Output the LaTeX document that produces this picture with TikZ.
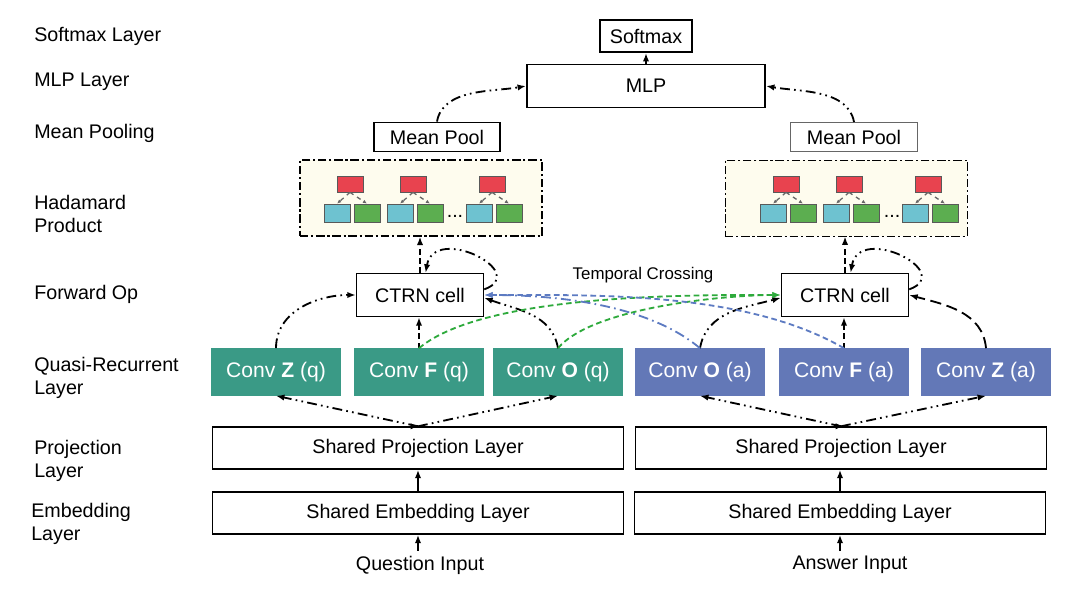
\documentclass[tikz,border=0pt]{standalone}
\usepackage{fontspec}
\setmainfont{Liberation Sans}
\usetikzlibrary{arrows.meta}
\definecolor{convq}{HTML}{3A9A86}
\definecolor{conva}{HTML}{6378B7}
\definecolor{hadred}{HTML}{E8434F}
\definecolor{hadblue}{HTML}{6EC2D0}
\definecolor{hadgreen}{HTML}{5CAE50}
\definecolor{hadbg}{HTML}{FEFCEE}
\definecolor{crossgreen}{HTML}{2EAA3C}
\definecolor{crossblue}{HTML}{5D7BC2}
\begin{document}
\begin{tikzpicture}[x=0.025cm,y=0.025cm,font=\fontsize{14}{16}\selectfont,
	lbl/.style={anchor=west,align=left,inner sep=0pt},
	blk/.style={draw,line width=1pt,inner sep=0pt},
	conv/.style={inner sep=0pt,text=white,minimum width=3.225cm,minimum height=1.175cm,font=\fontsize{15}{17}\selectfont},
	had/.style={draw,fill=hadbg,line width=0.9pt,dash pattern=on 6pt off 2pt on 1.5pt off 2pt,minimum width=6.05cm,minimum height=1.9cm},
	hcell/.style={draw=black!65,line width=0.5pt,inner sep=0pt,minimum width=0.65cm},
	arr/.style={-{Latex[length=6pt,width=4.5pt]},line width=1.3pt},
	dd/.style={dash pattern=on 7pt off 3pt on 1.2pt off 3pt on 1.2pt off 3pt},
	ddot/.style={dash pattern=on 7pt off 3pt on 1.2pt off 3pt},
	dsh/.style={dash pattern=on 4pt off 2.5pt},
	longdsh/.style={dash pattern=on 8pt off 4pt}]
	\fill[white] (0,0) rectangle (1080,-591);
	\useasboundingbox (0,0) rectangle (1080,-591);

	\node[lbl] (lSoft) at (34,-36) {Softmax Layer};
	\node[lbl] (lMlp) at (34,-82) {MLP Layer};
	\node[lbl] (lPool) at (34,-133) {Mean Pooling};
	\node[lbl] (lHad) at (34,-214) {Hadamard\\Product};
	\node[lbl] (lFwd) at (34,-294) {Forward Op};
	\node[lbl] (lQr) at (34,-378) {Quasi-Recurrent\\Layer};
	\node[lbl] (lProj) at (34,-461) {Projection\\Layer};
	\node[lbl] (lEmb) at (31,-524) {Embedding\\Layer};

	\node[blk,line width=1.4pt,minimum width=2.3cm,minimum height=0.8cm] (softmax) at (646,-36) {Softmax};
	\node[blk,line width=1.4pt,minimum width=5.95cm,minimum height=1.075cm] (mlp) at (646,-86) {MLP};
	\node[blk,line width=1.3pt,minimum width=3.15cm,minimum height=0.725cm] (mpQ) at (437,-137) {Mean Pool};
	\node[blk,draw=black!60,line width=0.7pt,minimum width=3.15cm,minimum height=0.725cm] (mpA) at (854,-137) {Mean Pool};

	\node[had] (hadQ) at (421,-198) {};
	\node[had,line width=0.6pt] (hadA) at (846,-198) {};
	\foreach \r in {350,413,492,786,849,928} {
		\node[hcell,fill=hadred,minimum height=0.4cm] (red\r) at (\r,-184) {};
		\node[hcell,fill=hadblue,minimum height=0.45cm] (blue\r) at (\r-13,-213) {};
		\node[hcell,fill=hadgreen,minimum height=0.45cm] (green\r) at (\r+17,-213) {};
		\draw[-{Latex[length=3pt,width=2.5pt]},black!60,line width=0.9pt,dashed] (red\r.south) -- (blue\r.north);
		\draw[-{Latex[length=3pt,width=2.5pt]},black!60,line width=0.9pt,dashed] (red\r.south) -- (green\r.north);
	}
	\node (dotsQ) at (455,-216) {...};
	\node (dotsA) at (892,-216) {...};

	\node[blk,minimum width=3.175cm,minimum height=1.075cm] (ctrnQ) at (420,-295) {CTRN cell};
	\node[blk,minimum width=3.175cm,minimum height=1.075cm] (ctrnA) at (845,-295) {CTRN cell};
	\node[font=\fontsize{12}{14}\selectfont] (tcross) at (643,-275) {Temporal Crossing};

	\foreach \nm/\x/\col/\txt in {cZq/276/convq/{Conv \textbf{Z} (q)},cFq/419/convq/{Conv \textbf{F} (q)},cOq/558/convq/{Conv \textbf{O} (q)},cOa/700/conva/{Conv \textbf{O} (a)},cFa/844/conva/{Conv \textbf{F} (a)},cZa/986/conva/{Conv \textbf{Z} (a)}}
		\node[conv,fill=\col] (\nm) at (\x,-372) {\txt};

	\node[blk,minimum width=10.275cm,minimum height=1.05cm] (projQ) at (418,-448) {Shared Projection Layer};
	\node[blk,minimum width=10.275cm,minimum height=1.05cm] (projA) at (841,-448) {Shared Projection Layer};
	\node[blk,minimum width=10.275cm,minimum height=1.05cm] (embQ) at (418,-513) {Shared Embedding Layer};
	\node[blk,minimum width=10.275cm,minimum height=1.05cm] (embA) at (840,-513) {Shared Embedding Layer};
	\node (inQ) at (420,-565) {Question Input};
	\node (inA) at (850,-565) {Answer Input};

	\draw[arr] (mlp.north) -- (softmax.south);
	\draw[arr,dd] (mpQ.north) to[out=80,in=190,looseness=0.9] (mlp.west);
	\draw[arr,dd] (mpA.north) to[out=100,in=-10,looseness=0.9] (mlp.east);

	\draw[arr,dsh] (ctrnQ.north) -- (ctrnQ.north |- hadQ.south);
	\draw[arr,dsh] (ctrnA.north) -- (ctrnA.north |- hadA.south);
	\draw[arr,dd] ([yshift=4pt]ctrnQ.east) to[out=20,in=80,looseness=2.1] ([xshift=4pt]ctrnQ.north);
	\draw[arr,dd] ([yshift=4pt]ctrnA.east) to[out=20,in=80,looseness=2.1] ([xshift=4pt]ctrnA.north);

	\draw[arr,dd] (cZq.north) to[out=90,in=180] (ctrnQ.west);
	\draw[arr,dsh] (cFq.north) -- (cFq.north |- ctrnQ.south);
	\draw[arr,dd] (cOq.north) to[out=100,in=-20] ([yshift=-2pt]ctrnQ.east);
	\draw[arr,dd] (cOa.north) to[out=80,in=195] ([yshift=-2pt]ctrnA.west);
	\draw[arr,dsh] (cFa.north) -- (cFa.north |- ctrnA.south);
	\draw[arr,longdsh] (cZa.north) to[out=95,in=-15] (ctrnA.east);

	\draw[arr,crossgreen,dsh] (cFq.north) to[out=40,in=180,looseness=0.6] (ctrnA.west);
	\draw[arr,crossgreen,dsh] (cOq.north) to[out=50,in=180,looseness=0.6] (ctrnA.west);
	\draw[arr,crossblue,dsh] (cFa.north) to[out=150,in=0,looseness=0.8] (ctrnQ.east);
	\draw[arr,crossblue,ddot] (cOa.north) to[out=140,in=0,looseness=0.8] (ctrnQ.east);

	\draw[arr,dd] (projQ.north) -- (cZq.south);
	\draw[arr,dsh] (projQ.north) -- (projQ.north -| cFq.south);
	\draw[arr,dd] (projQ.north) -- (cOq.south);
	\draw[arr,dd] (projA.north) -- (cOa.south);
	\draw[arr,dsh] (projA.north) -- (projA.north -| cFa.south);
	\draw[arr,dd] (projA.north) -- (cZa.south);

	\draw[arr] (embQ.north) -- (projQ.south);
	\draw[arr] (embA.north) -- (embA.north |- projA.south);
	\draw[arr] (embQ.south |- inQ.north) -- (embQ.south);
	\draw[arr] (embA.south |- inA.north) -- (embA.south);
\end{tikzpicture}
\end{document}
